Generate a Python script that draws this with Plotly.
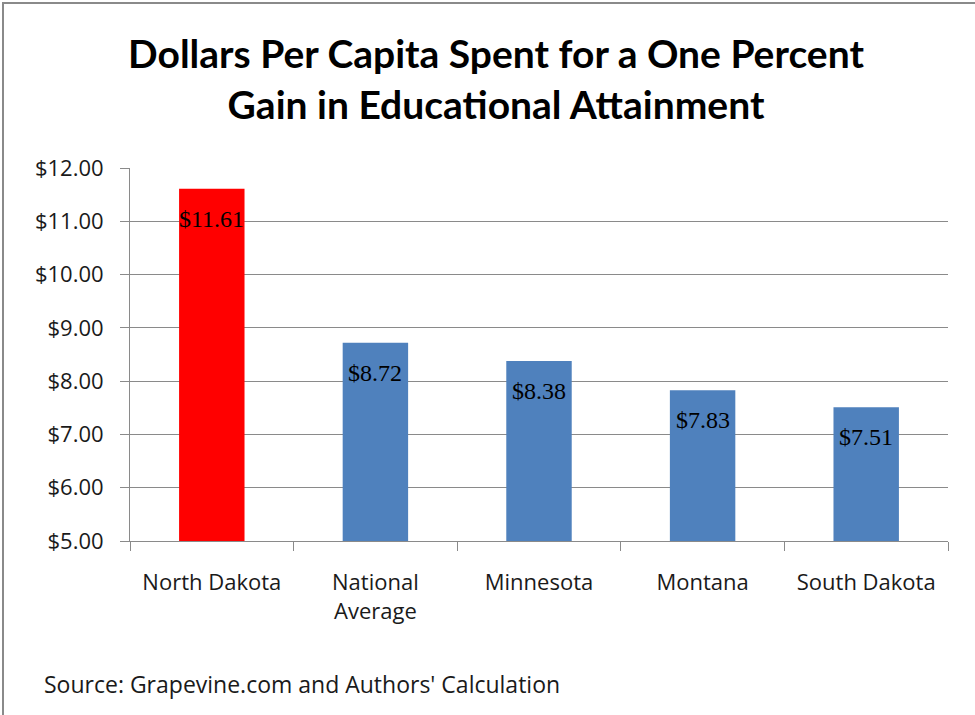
import plotly.graph_objects as go

categories = ["North Dakota", "National<br>Average", "Minnesota", "Montana", "South Dakota"]
values = [11.61, 8.72, 8.38, 7.83, 7.51]
value_labels = ["$11.61", "$8.72", "$8.38", "$7.83", "$7.51"]
bar_colors = ["#FF0000", "#4F81BD", "#4F81BD", "#4F81BD", "#4F81BD"]
y_ticks = [5, 6, 7, 8, 9, 10, 11, 12]
y_tick_labels = ["$5.00", "$6.00", "$7.00", "$8.00", "$9.00", "$10.00", "$11.00", "$12.00"]

L, R, T, B = 130, 27, 168, 174
W, H = 975, 715
pw, ph = W - L - R, H - T - B

def px_x(px):
    return (px - L) / pw

def px_y(py):
    return (H - B - py) / ph

fig = go.Figure()
fig.add_trace(go.Bar(
    x=categories, y=values, base=0,
    marker=dict(color=bar_colors, line=dict(width=0)),
    width=0.4, hoverinfo="skip",
))

for c, v, t in zip(categories, values, value_labels):
    fig.add_annotation(x=c, y=v, text=t, showarrow=False, yshift=-30,
                       font=dict(family="Liberation Serif", size=24, color="#000000"))

fig.add_annotation(xref="paper", yref="paper", x=px_x(42), y=px_y(684),
                   xanchor="left", yanchor="middle", showarrow=False,
                   text="Source: Grapevine.com and Authors' Calculation",
                   font=dict(family="Open Sans", size=23, color="#1a1a1a"))

fig.add_shape(type="rect", xref="paper", yref="paper",
              x0=px_x(3), x1=px_x(990), y0=px_y(730), y1=px_y(3),
              line=dict(color="#8a8a8a", width=2), layer="below")

fig.update_layout(
    width=W, height=H,
    margin=dict(l=L, r=R, t=T, b=B),
    paper_bgcolor="white", plot_bgcolor="white",
    showlegend=False, bargap=0.6,
    title=dict(text="<b>Dollars Per Capita Spent for a One Percent<br>Gain in Educational Attainment</b>",
               x=496 / W, xanchor="center", y=1 - 68 / H, yanchor="middle",
               font=dict(family="Lato", size=39, color="#000000")),
)
fig.update_xaxes(
    type="category", tickson="boundaries", ticks="outside", ticklen=9,
    tickcolor="#8a8a8a", showline=True, linecolor="#8a8a8a", linewidth=1,
    showgrid=False, ticklabelstandoff=22,
    tickfont=dict(family="Open Sans", size=22, color="#1a1a1a"),
)
fig.update_yaxes(
    range=[5, 12], tickvals=y_ticks, ticktext=y_tick_labels,
    ticks="outside", ticklen=9, tickcolor="#8a8a8a",
    showline=True, linecolor="#8a8a8a", linewidth=1,
    showgrid=True, gridcolor="#8a8a8a", gridwidth=1, zeroline=False,
    ticklabelstandoff=12,
    tickfont=dict(family="Open Sans", size=22, color="#1a1a1a"),
)
fig.write_html("out.html", config={"displayModeBar": False},
               post_script="document.body.style.margin='0';document.body.style.padding='0';")
